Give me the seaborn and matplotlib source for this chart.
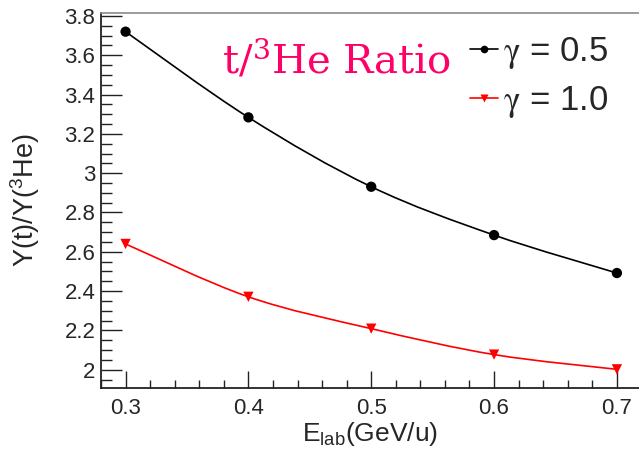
import numpy as np
import pandas as pd
import matplotlib
matplotlib.use("Agg")
import matplotlib.pyplot as plt
from matplotlib.path import Path
from matplotlib.patches import PathPatch
from matplotlib.lines import Line2D
from matplotlib.ticker import MultipleLocator
import seaborn as sns

# Beam energies (GeV/u) and t/3He yield ratios for two gamma values
energy = [0.3, 0.4, 0.5, 0.6, 0.7]
ratio_g05 = [3.72, 3.284, 2.931, 2.685, 2.492]
ratio_g10 = [2.64, 2.371, 2.209, 2.077, 2.002]
series_labels = [r"$\mathrm{\gamma}$ = 0.5", r"$\mathrm{\gamma}$ = 1.0"]
x_ticks = [0.3, 0.4, 0.5, 0.6, 0.7]
y_ticks = [2.0, 2.2, 2.4, 2.6, 2.8, 3.0, 3.2, 3.4, 3.6, 3.8]

df = pd.DataFrame({
    "E": energy * 2,
    "R": ratio_g05 + ratio_g10,
    "gamma": [series_labels[0]] * len(energy) + [series_labels[1]] * len(energy),
})

sns.set_style("ticks")
plt.rcParams["font.family"] = ["Liberation Sans", "DejaVu Sans"]
plt.rcParams["mathtext.fontset"] = "custom"
plt.rcParams["mathtext.rm"] = "Liberation Sans"
plt.rcParams["mathtext.it"] = "Liberation Sans"

fig = plt.figure(figsize=(6.39, 4.61), dpi=100)
W, H = 639, 461
ax = fig.add_axes([101 / W, (H - 388) / H, (W - 101) / W, (388 - 13) / H])


def smooth_path(xs, ys):
    """Catmull-Rom style cubic Bezier path through the points (like ROOT's 'C')."""
    pts = np.column_stack([xs, ys]).astype(float)
    ext = np.vstack([pts[0], pts, pts[-1]])
    verts = [tuple(pts[0])]
    codes = [Path.MOVETO]
    for i in range(1, len(ext) - 2):
        p0, p1, p2, p3 = ext[i - 1], ext[i], ext[i + 1], ext[i + 2]
        c1 = p1 + (p2 - p0) / 6.0
        c2 = p2 - (p3 - p1) / 6.0
        verts += [tuple(c1), tuple(c2), tuple(p2)]
        codes += [Path.CURVE4] * 3
    return Path(verts, codes)


colors = {series_labels[0]: "black", series_labels[1]: "#ff0000"}
markers = {series_labels[0]: "o", series_labels[1]: "v"}

for lab in series_labels:
    sub = df[df["gamma"] == lab]
    ax.add_patch(PathPatch(smooth_path(sub["E"], sub["R"]), fill=False,
                           edgecolor=colors[lab], lw=1.2, zorder=2))

sns.scatterplot(data=df, x="E", y="R", hue="gamma", style="gamma",
                palette=colors, markers=markers, s=55, edgecolor="none",
                legend=False, ax=ax, zorder=3)

ax.set_xlim(0.28, 0.718)
ax.set_ylim(1.907, 3.815)
ax.set_xticks(x_ticks)
ax.set_xticklabels([f"{v:g}" for v in x_ticks])
ax.set_yticks(y_ticks)
ax.set_yticklabels([f"{v:g}" for v in y_ticks])
ax.xaxis.set_minor_locator(MultipleLocator(0.02))
ax.yaxis.set_minor_locator(MultipleLocator(0.05))
ax.tick_params(axis="both", which="both", direction="in", color="#222222",
               width=1.0, labelsize=16)
ax.tick_params(axis="x", which="major", length=12, pad=7)
ax.tick_params(axis="x", which="minor", length=6)
ax.tick_params(axis="y", which="major", length=15, pad=4)
ax.tick_params(axis="y", which="minor", length=8)

for side in ["left", "bottom"]:
    ax.spines[side].set_color("#222222")
    ax.spines[side].set_linewidth(1.3)
ax.spines["top"].set_color("#8a8a8a")
ax.spines["top"].set_linewidth(1.2)
ax.spines["right"].set_visible(False)

ax.set_xlabel(r"E$_{\mathregular{lab}}$(GeV/u)", fontsize=19)
ax.set_ylabel(r"Y(t)/Y($^{\mathregular{3}}$He)", fontsize=19.5)
ax.xaxis.set_label_coords(0.5, -(420 - 388) / (388 - 13))
ax.yaxis.set_label_coords(-(101 - 42) / (W - 101), 0.5)

fig.text(222 / W, 1 - 73 / H, r"t/$^{3}$He Ratio", color="#ff0066",
         fontsize=29, family=["DejaVu Serif"], math_fontfamily="dejavuserif",
         ha="left", va="baseline")

handles = [
    Line2D([], [], color=colors[lab], marker=markers[lab], lw=1.2,
           markersize=5.5, markeredgecolor="none")
    for lab in series_labels
]
leg = ax.legend(handles, series_labels, loc="upper left",
                bbox_to_anchor=((470 - 101) / (W - 101), 1 - (35 - 13) / (388 - 13)),
                frameon=False, fontsize=25, handlelength=0.8,
                handletextpad=0.15, labelspacing=0.38, borderaxespad=0,
                borderpad=0)
for t in leg.get_texts():
    t.set_math_fontfamily("stix")

fig.savefig("out.png", dpi=100)
